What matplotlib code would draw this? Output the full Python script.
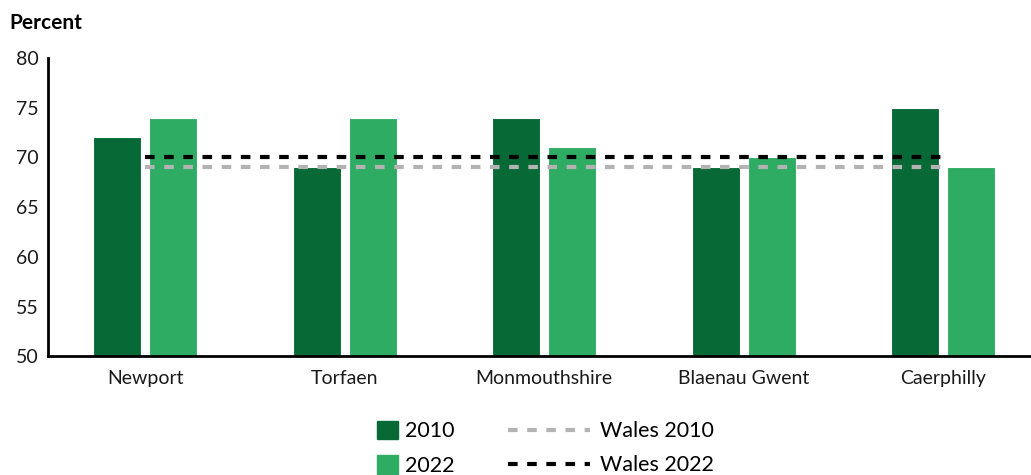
import numpy as np
import matplotlib.pyplot as plt
from matplotlib.patches import Patch
from matplotlib.lines import Line2D

plt.rcParams['font.family'] = ['Lato', 'DejaVu Sans']

areas = ['Newport', 'Torfaen', 'Monmouthshire', 'Blaenau Gwent', 'Caerphilly']
v2010 = [72, 69, 74, 69, 75]
v2022 = [74, 74, 71, 70, 69]
wales2010 = 69
wales2022 = 70

dark = '#076935'
light = '#2fac64'

fig = plt.figure(figsize=(10.31, 4.75), dpi=100)
ax = fig.add_axes([0.047, 0.25, 0.953, 0.628])

x = np.arange(len(areas))
w = 0.24
ax.bar(x - 0.14, v2010, w, color=dark, edgecolor='white', linewidth=0.8, zorder=2)
ax.bar(x + 0.14, v2022, w, color=light, edgecolor='white', linewidth=0.8, zorder=2)

# wales averages across the categories
ax.plot([x[0], x[-1]], [wales2010] * 2, color='#b3b3b3', lw=3, dashes=(2.3, 2.3), zorder=3)
ax.plot([x[0], x[-1]], [wales2022] * 2, color='black', lw=3, dashes=(2.3, 2.3), zorder=3)

ax.set_ylim(50, 80)
ax.set_xlim(-0.485, 4.44)
ax.set_yticks(range(50, 81, 5))
ax.set_xticks(x)
ax.set_xticklabels(areas)
ax.tick_params(length=0, labelsize=14, colors='#1a1a1a')
ax.tick_params(axis='x', pad=10)
ax.tick_params(axis='y', pad=7)
for s in ['top', 'right']:
    ax.spines[s].set_visible(False)
for s in ['left', 'bottom']:
    ax.spines[s].set_linewidth(2)

fig.text(0.009, 0.952, 'Percent', fontsize=15, fontweight='bold', va='center')

bar_handles = [Patch(color=dark), Patch(color=light)]
line_handles = [Line2D([], [], color='#b3b3b3', lw=3, dashes=(2.3, 2.3)),
                Line2D([], [], color='black', lw=3, dashes=(2.3, 2.3))]
fig.legend(bar_handles, ['2010', '2022'], loc='center left', bbox_to_anchor=(0.347, 0.056),
           frameon=False, handlelength=0.95, handleheight=0.95, handletextpad=0.35,
           labelspacing=0.65, fontsize=15.5)
fig.legend(line_handles, ['Wales 2010', 'Wales 2022'], loc='center left', bbox_to_anchor=(0.474, 0.056),
           frameon=False, handlelength=3.8, handletextpad=0.45,
           labelspacing=0.65, fontsize=15.5)

fig.savefig('out.png', dpi=100)
